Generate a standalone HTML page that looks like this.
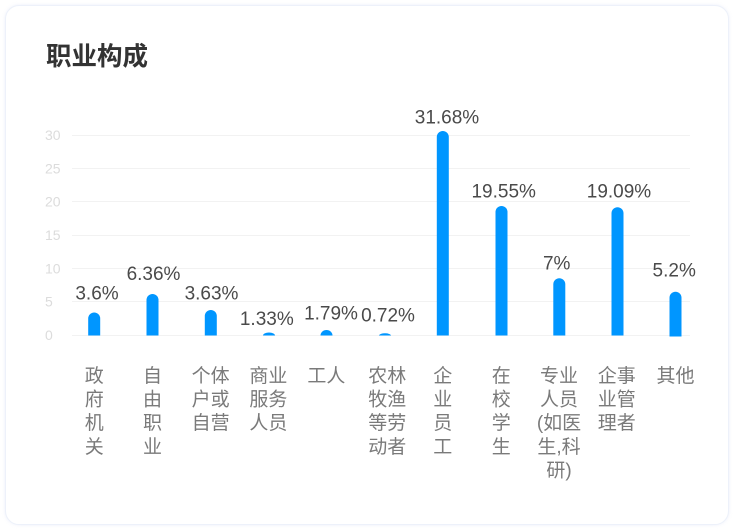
<!DOCTYPE html>
<html>
<head>
<meta charset="utf-8">
<style>
  html, body { margin: 0; padding: 0; background: #ffffff; }
  body { width: 736px; height: 532px; overflow: hidden; position: relative; }
  .card {
    position: absolute; left: 5px; top: 5px; width: 722px; height: 518px;
    border: 1.5px solid #edf1fa; border-radius: 14px; background: #fff;
    box-shadow: 0 0 3px rgba(200, 210, 240, 0.35);
  }
  svg { position: absolute; left: 0; top: 0; }
  .val { font-family: "Liberation Sans", "Noto Sans CJK SC", sans-serif; font-size: 19px; fill: #4a4a4a; text-anchor: middle; }
  .ytick { font-family: "Liberation Sans", sans-serif; font-size: 14px; fill: #dcdcdc; }
  .xl { font-family: "Liberation Sans", "Noto Sans CJK SC", sans-serif; font-size: 19px; fill: #7a7a7a; text-anchor: middle; }
  .title { font-family: "Liberation Sans", "Noto Sans CJK SC", sans-serif; font-size: 25.5px; font-weight: bold; fill: #333; }
</style>
</head>
<body>
<div class="card"></div>
<svg width="736" height="532" viewBox="0 0 736 532" xmlns="http://www.w3.org/2000/svg">
  <text class="title" x="46" y="65">职业构成</text>

  <!-- grid -->
  <g stroke="#f2f2f2" stroke-width="1">
    <line x1="72" y1="135.5" x2="690" y2="135.5"/>
    <line x1="72" y1="168.5" x2="690" y2="168.5"/>
    <line x1="72" y1="201.5" x2="690" y2="201.5"/>
    <line x1="72" y1="235.5" x2="690" y2="235.5"/>
    <line x1="72" y1="268.5" x2="690" y2="268.5"/>
    <line x1="72" y1="301.5" x2="690" y2="301.5"/>
    <line x1="72" y1="335.5" x2="690" y2="335.5"/>
  </g>
  <g class="ytick">
    <text x="45" y="140">30</text>
    <text x="45" y="173.3">25</text>
    <text x="45" y="206.7">20</text>
    <text x="45" y="240">15</text>
    <text x="45" y="273.3">10</text>
    <text x="45" y="306.7">5</text>
    <text x="45" y="340">0</text>
  </g>

  <!-- bars -->
  <g fill="#0096ff">
    <path d="M88.2,335.5 V318.5 A6,6 0 0 1 100.2,318.5 V335.5 Z"/>
    <path d="M146.5,335.5 V300 A6,6 0 0 1 158.5,300 V335.5 Z"/>
    <path d="M204.8,335.5 V316 A6,6 0 0 1 216.8,316 V335.5 Z"/>
    <path d="M263,335.5 A6,3 0 0 1 275,335.5 Z"/>
    <path d="M320.5,335.5 A6,5.5 0 0 1 332.5,335.5 Z"/>
    <path d="M379,335.5 A6,2.2 0 0 1 391,335.5 Z"/>
    <path d="M436.8,335.5 V137 A6,6 0 0 1 448.8,137 V335.5 Z"/>
    <path d="M495.5,335.5 V212 A6,6 0 0 1 507.5,212 V335.5 Z"/>
    <path d="M553.3,335.5 V284.3 A6,6 0 0 1 565.3,284.3 V335.5 Z"/>
    <path d="M611.5,335.5 V213.3 A6,6 0 0 1 623.5,213.3 V335.5 Z"/>
    <path d="M669.5,336.5 V297.7 A6,6 0 0 1 681.5,297.7 V336.5 Z"/>
  </g>

  <!-- value labels -->
  <g class="val">
    <text x="97" y="299.3">3.6%</text>
    <text x="153.5" y="280">6.36%</text>
    <text x="211.5" y="299.3">3.63%</text>
    <text x="266.8" y="325">1.33%</text>
    <text x="331" y="319.3">1.79%</text>
    <text x="388" y="321.7">0.72%</text>
    <text x="447" y="123.3">31.68%</text>
    <text x="503.7" y="197.3">19.55%</text>
    <text x="556.7" y="269.3">7%</text>
    <text x="619" y="197.3">19.09%</text>
    <text x="674.2" y="276.7">5.2%</text>
  </g>

  <!-- x labels -->
  <g class="xl">
    <text x="94.2" y="382">政</text>
    <text x="94.2" y="405.6">府</text>
    <text x="94.2" y="429.2">机</text>
    <text x="94.2" y="452.8">关</text>

    <text x="152.5" y="382">自</text>
    <text x="152.5" y="405.6">由</text>
    <text x="152.5" y="429.2">职</text>
    <text x="152.5" y="452.8">业</text>

    <text x="210.6" y="382">个体</text>
    <text x="210.6" y="405.6">户或</text>
    <text x="210.6" y="429.2">自营</text>

    <text x="268.4" y="382">商业</text>
    <text x="268.4" y="405.6">服务</text>
    <text x="268.4" y="429.2">人员</text>

    <text x="326.4" y="382">工人</text>

    <text x="387.3" y="382">农林</text>
    <text x="387.3" y="405.6">牧渔</text>
    <text x="387.3" y="429.2">等劳</text>
    <text x="387.3" y="452.8">动者</text>

    <text x="442.8" y="382">企</text>
    <text x="442.8" y="405.6">业</text>
    <text x="442.8" y="429.2">员</text>
    <text x="442.8" y="452.8">工</text>

    <text x="501.2" y="382">在</text>
    <text x="501.2" y="405.6">校</text>
    <text x="501.2" y="429.2">学</text>
    <text x="501.2" y="452.8">生</text>

    <text x="559" y="382">专业</text>
    <text x="559" y="405.6">人员</text>
    <text x="559" y="429.2">(如医</text>
    <text x="559" y="452.8">生,科</text>
    <text x="559" y="476.4">研)</text>

    <text x="616.7" y="382">企事</text>
    <text x="616.7" y="405.6">业管</text>
    <text x="616.7" y="429.2">理者</text>

    <text x="675.5" y="382">其他</text>
  </g>
</svg>
</body>
</html>
